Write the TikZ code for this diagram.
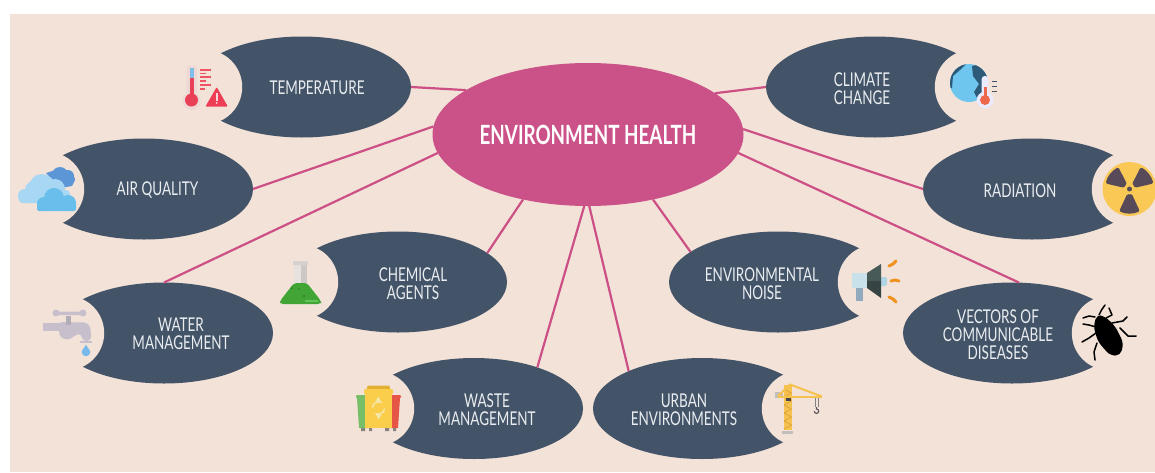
\documentclass[tikz,border=0pt]{standalone}
\usepackage{fontspec}
\usetikzlibrary{shapes.geometric}
\newfontfamily\labelfont[FakeStretch=0.71]{Lato}
\definecolor{bgc}{HTML}{F3E2D8}
\definecolor{darkc}{HTML}{445468}
\definecolor{hubc}{HTML}{CB5289}
\definecolor{linkc}{HTML}{CC4F85}
\definecolor{txtc}{HTML}{E9EDF0}
\definecolor{redc}{HTML}{E94058}
\definecolor{cranec}{HTML}{F5C24F}
\definecolor{tapc}{HTML}{C7C0CC}
\tikzset{
  bubble/.style={ellipse,fill=darkc,minimum width=218pt,minimum height=101pt,inner sep=0pt,outer sep=0pt},
  hubnode/.style={ellipse,fill=hubc,minimum width=311pt,minimum height=143pt,inner sep=0pt,outer sep=0pt},
  link/.style={draw=linkc,line width=2.2pt},
  lab/.style={text=txtc,align=center,inner sep=0pt,yshift=-1.2pt,font=\labelfont\fontsize{19}{18}\selectfont},
  hublab/.style={text=white,align=center,inner sep=0pt,font=\labelfont\bfseries\fontsize{26.5}{28}\selectfont},
  bite/.style={fill=bgc},
  bugline/.style={draw=black,line width=1.5pt,line cap=round,line join=round}
}
\begin{document}
\begin{tikzpicture}[x=1pt,y=-1pt]
\useasboundingbox (0,0) rectangle (1155,472);
\fill[white] (0,0) rectangle (1155,472);
\fill[bgc] (9.5,13.5) rectangle (1155,472);
% nodes
\node[hubnode] (hub) at (588,134.5) {};
\node[bubble] (temp) at (302,87) {};
\node[bubble] (air) at (144,189) {};
\node[bubble] (water) at (164,333) {};
\node[bubble] (chem) at (398,282) {};
\node[bubble] (waste) at (474,408.5) {};
\node[bubble] (climate) at (875,87) {};
\node[bubble] (rad) at (1032,189) {};
\node[bubble] (noise) at (778,282) {};
\node[bubble] (urban) at (702,408.5) {};
\node[bubble] (vect) at (1012,333) {};
% connectors
\draw[link] (hub.160.9) -- (temp.east);
\draw[link] (hub.177.6) -- (air.east);
\draw[link] (hub.187) -- (water.north);
\draw[link] (hub.225.2) -- (chem.18.6);
\draw[link] (hub.267.6) -- (waste.33.4);
\draw[link] (hub.271.6) -- (urban.153);
\draw[link] (hub.315.2) -- (noise.161.6);
\draw[link] (hub.353.4) -- (vect.82);
\draw[link] (hub.2.4) -- (rad.west);
\draw[link] (hub.18.8) -- (climate.west);
% bites
\foreach \n in {temp,air,water,chem,waste}{\fill[bite] ([xshift=-97pt]\n.center) circle (37.2pt);}
\foreach \n in {climate,rad,noise,urban,vect}{\fill[bite] ([xshift=97pt]\n.center) circle (37.2pt);}
% labels
\node[hublab] (hubt) at (588,134.5) {ENVIRONMENT HEALTH};
\node[lab] (tempt) at (317,87) {TEMPERATURE};
\node[lab] (airt) at (157.5,189) {AIR QUALITY};
\node[lab] (watert) at (181,333) {WATER\\MANAGEMENT};
\node[lab] (chemt) at (413,282) {CHEMICAL\\AGENTS};
\node[lab] (wastet) at (487,408.5) {WASTE\\MANAGEMENT};
\node[lab] (climatet) at (862,87) {CLIMATE\\CHANGE};
\node[lab] (radt) at (1020,189) {RADIATION};
\node[lab] (noiset) at (762,282) {ENVIRONMENTAL\\NOISE};
\node[lab] (urbant) at (684,408.5) {URBAN\\ENVIRONMENTS};
\node[lab] (vectt) at (998,333) {VECTORS OF\\COMMUNICABLE\\DISEASES};
% --- icon: temperature
\fill[rounded corners=3pt,color=white!55!violet!12!bgc] (186.5,65.5) rectangle (197,100);
\fill[color=white!55!violet!12!bgc] (191.5,101) circle (9);
\fill[redc] (189.5,78) rectangle (194,100);
\fill[color={rgb,255:red,130;green,190;blue,235}] (189.5,68) rectangle (194,78);
\fill[redc] (191.5,100) circle (6.5);
\foreach \yy/\ll in {69/11,72.5/6,76.2/11,80/6,84/11,88/5}{
  \fill[color={rgb,255:red,238;green,84;blue,100}] (200,\yy) rectangle ++(\ll,1.8);}
\fill[color={rgb,255:red,238;green,62;blue,85},rounded corners=1pt] (216.7,87) -- (205.5,106.5) -- (227.8,106.5) -- cycle;
\fill[white!85!red] (215.9,93) rectangle (217.5,100.5);
\fill[white!85!red] (216.7,102.8) circle (1);
% --- icon: air
\fill[color={rgb,255:red,92;green,150;blue,214}] (60,175) circle (8) (68,176) circle (6) (70,179) circle (5);
\fill[color={rgb,255:red,92;green,150;blue,214}] (46,173) -- (62,168) -- (75,180) -- (72,186) -- (60,188) -- cycle;
\fill[color={rgb,255:red,168;green,215;blue,243}] (25,196) circle (7) (42,187) circle (13) (55,189) circle (10) (34,190) circle (9);
\fill[color={rgb,255:red,168;green,215;blue,243},rounded corners=4pt] (18.5,190) rectangle (70,203);
\fill[color={rgb,255:red,105;green,190;blue,236}] (54,198) circle (10) (44,204) circle (7) (68,203) circle (8);
\fill[color={rgb,255:red,105;green,190;blue,236},rounded corners=2pt] (37,201) rectangle (76,211);
% --- icon: tap
\fill[tapc] (43,323) rectangle (60,331);
\fill[tapc,rounded corners=4pt] (58,322) -- (88,322.5) -- (91,330) -- (91,341) -- (82,341) -- (82,334) -- (76,334) -- (70,340) -- (60,338) -- cycle;
\fill[tapc!90!black] (66,316) rectangle (71,325);
\fill[tapc,rounded corners=1.2pt] (55,311.5) rectangle (84,315);
\fill[tapc] (56,313) circle (3.5) (83,313) circle (3.5);
\fill[tapc] (79.5,341) rectangle (92,342.5);
\fill[color={rgb,255:red,120;green,185;blue,235}] (86,344.5) -- (82,351.5) -- (90,351.5) -- cycle;
\fill[color={rgb,255:red,120;green,185;blue,235}] (86,352) circle (4.3);
% --- icon: flask
\fill[color={rgb,255:red,231;green,226;blue,222}] (294,262) rectangle (307,284);
\fill[color={rgb,255:red,205;green,200;blue,197}] (301,264) rectangle (307,284);
\fill[color={rgb,255:red,215;green,210;blue,207},rounded corners=1pt] (293,261) rectangle (308,265);
\fill[color={rgb,255:red,64;green,165;blue,52},rounded corners=3pt] (294,283) -- (307,283) -- (321,301) -- (321,304) -- (280,304) -- (280,301) -- cycle;
\fill[color={rgb,255:red,48;green,125;blue,40}] (292,288) circle (1) (304,296) circle (1.2) (299,289) circle (.8);
\fill[color={rgb,255:red,100;green,195;blue,90}] (305,299.5) rectangle (318,302);
% --- icon: bins
\fill[color={rgb,255:red,120;green,190;blue,105},rounded corners=1pt] (356,395) rectangle (367,398);
\fill[color={rgb,255:red,120;green,190;blue,105}] (357,398) -- (368,398) -- (369,428) -- (359,428) -- cycle;
\fill[color={rgb,255:red,230;green,85;blue,70},rounded corners=1pt] (390,395) rectangle (401,398);
\fill[color={rgb,255:red,230;green,85;blue,70}] (389,398) -- (400,398) -- (398,428) -- (388,428) -- cycle;
\fill[color={rgb,255:red,250;green,205;blue,75}] (365,393) rectangle (392,428);
\fill[color={rgb,255:red,225;green,175;blue,50},rounded corners=2pt] (367,385.5) rectangle (390,390);
\fill[color={rgb,255:red,250;green,205;blue,75},rounded corners=1pt] (364,389) rectangle (393,394);
\fill[color={rgb,255:red,135;green,130;blue,125}] (361,428) rectangle (365,431) (369,428) rectangle (372,431) (385,428) rectangle (389,431) (393,428) rectangle (396,431);
\begin{scope}[shift={(378.5,408)},y=1pt]
\draw[color=bgc!80!yellow,line width=1.4pt,-latex] (175:6) arc[start angle=175,end angle=50,radius=6];
\draw[color=bgc!80!yellow,line width=1.4pt,-latex] (-5:6) arc[start angle=-5,end angle=-130,radius=6];
\end{scope}
% --- icon: globe + thermometer
\fill[color={rgb,255:red,110;green,197;blue,238}] (969,83) circle (19);
\begin{scope}
\clip (969,83) circle (19);
\fill[color={rgb,255:red,45;green,90;blue,120}] (949,72) -- (961,63) -- (966,64) -- (960,70) -- (953,76) -- (952,88) -- (949,88) -- cycle;
\fill[color={rgb,255:red,45;green,90;blue,120}] (972,66) -- (985,63) -- (990,78) -- (985,92) -- (978,100) -- (974,92) -- (979,84) -- (973,76) -- cycle;
\end{scope}
\fill[white!92!blue,rounded corners=3pt] (981.7,76) rectangle (988.3,100);
\fill[white!92!blue] (985,100) circle (8.3);
\fill[color={rgb,255:red,238;green,105;blue,75}] (983.5,87) rectangle (986.5,100);
\fill[color={rgb,255:red,238;green,105;blue,75}] (985,100) circle (5);
\foreach \yy in {80.5,85.5,90.5}{\fill[color=darkc] (991.5,\yy) rectangle ++(5,1.1);}
% --- icon: radiation
\fill[color={rgb,255:red,250;green,200;blue,85}] (1129.5,189) circle (27);
\begin{scope}[shift={(1129.5,189)},y=1pt]
\foreach \ang in {38,142,270}{
 \fill[color={rgb,255:red,88;green,74;blue,88},rounded corners=1.5pt] (\ang-25:5.5) -- (\ang-25:24.5) arc[start angle=\ang-25,end angle=\ang+25,radius=24.5] -- (\ang+25:5.5) -- cycle;}
\fill[color={rgb,255:red,250;green,200;blue,85}] (0,0) circle (5.5);
\fill[color={rgb,255:red,88;green,74;blue,88}] (0,0) circle (2.5);
\end{scope}
% --- icon: loudspeaker
\fill[color={rgb,255:red,200;green,225;blue,235}] (852,273) rectangle (867,288);
\fill[color={rgb,255:red,145;green,170;blue,190}] (856,288) rectangle (863,301);
\fill[color={rgb,255:red,175;green,212;blue,228},rounded corners=2pt] (880,277) rectangle (887,286);
\fill[color={rgb,255:red,72;green,90;blue,88}] (867,273) -- (881,264) -- (881,281) -- (867,281) -- cycle;
\fill[color={rgb,255:red,55;green,68;blue,68}] (867,281) -- (881,281) -- (881,298) -- (867,288) -- cycle;
\foreach \a/\b/\c/\d/\e/\f in {889/266/893/264/896/261,891/281/895/280/899/281,889/297/893/299/896/302}{
 \draw[color={rgb,255:red,240;green,145;blue,30},line width=3pt,line cap=round,line join=round] (\a,\b) -- (\c,\d) -- (\e,\f);}
% --- icon: bug
\fill[black,rounded corners=5pt] (1096.7,314.5) -- (1105,316.5) -- (1115,326) -- (1123.5,343) -- (1120.5,355.5) -- (1110,355.5) -- (1098,341.7) -- (1093.5,326.7) -- cycle;
\draw[bugline] (1099,315) -- (1101.5,310) -- (1105,305);
\draw[bugline] (1106,318) -- (1112,315) -- (1109,308);
\draw[bugline] (1112,323) -- (1123,321) -- (1127,317);
\draw[bugline] (1120,328) -- (1128,336) -- (1136,336);
\draw[bugline] (1095,317) -- (1089,316) -- (1083,318);
\draw[bugline] (1096,327) -- (1089,325) -- (1083,324);
\draw[bugline] (1096,333) -- (1089,338) -- (1082,342);
\draw[bugline] (1097,343) -- (1094,352) -- (1095,360);
% --- icon: crane
\fill[cranec] (784,385) rectangle (791.5,430);
\foreach \yy in {392,400,408,416,424}{\draw[color={rgb,255:red,225;green,165;blue,60},line width=.8pt] (784,\yy-3) -- (791.5,\yy+1) -- (784,\yy+5);}
\fill[color={rgb,255:red,195;green,190;blue,190}] (782,431) rectangle (793,433.5);
\fill[color={rgb,255:red,195;green,190;blue,190}] (775,392) rectangle (783,398);
\fill[cranec] (778,395.5) -- (822,395.5) -- (822,398) -- (778,398) -- cycle;
\draw[cranec,line width=2pt,line join=round] (778,396) -- (790,384.5) -- (822,396.5);
\fill[color={rgb,255:red,70;green,70;blue,75}] (786,398) rectangle (791,401);
\draw[color={rgb,255:red,130;green,130;blue,130},line width=1pt] (815,398) -- (815,407) (818,398) -- (818,407);
\begin{scope}[shift={(816.5,411)},y=1pt]
\draw[color={rgb,255:red,90;green,80;blue,90},line width=1.1pt] (0,4) -- (0,2) arc[start angle=90,end angle=-180,radius=2.2];
\end{scope}
\end{tikzpicture}
\end{document}
